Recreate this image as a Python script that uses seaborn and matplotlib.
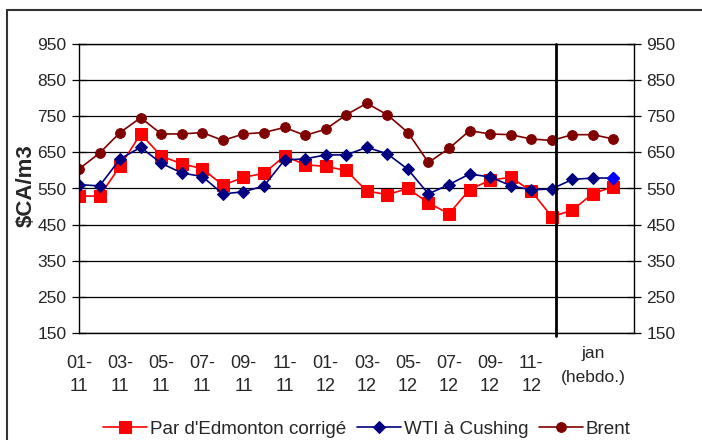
import matplotlib
matplotlib.use("Agg")
import matplotlib.pyplot as plt
import seaborn as sns
import numpy as np
import pandas as pd
from matplotlib.patches import Rectangle

# ---- data ----
periods = ["01-11", "02-11", "03-11", "04-11", "05-11", "06-11", "07-11", "08-11",
           "09-11", "10-11", "11-11", "12-11", "01-12", "02-12", "03-12", "04-12",
           "05-12", "06-12", "07-12", "08-12", "09-12", "10-12", "11-12", "12-12",
           "jan s1", "jan s2", "jan s3"]
edmonton = [529, 529, 612, 701, 640, 618, 605, 559, 581, 592, 640, 616, 611, 600,
            543, 533, 550, 510, 480, 547, 573, 581, 543, 472, 490, 536, 555]
wti = [561, 557, 632, 664, 620, 593, 583, 535, 541, 557, 629, 632, 643, 643,
       664, 646, 603, 535, 561, 590, 582, 558, 546, 549, 575, 579, 579]
brent = [604, 648, 705, 746, 701, 701, 705, 683, 701, 705, 719, 697, 714, 754,
         786, 754, 705, 622, 661, 710, 701, 699, 687, 683, 699, 699, 687]
series_names = ["Par d'Edmonton corrigé", "WTI à Cushing", "Brent"]
y_ticks = [150, 250, 350, 450, 550, 650, 750, 850, 950]
shown_labels = {0: "01-\n11", 2: "03-\n11", 4: "05-\n11", 6: "07-\n11", 8: "09-\n11",
                10: "11-\n11", 12: "01-\n12", 14: "03-\n12", 16: "05-\n12",
                18: "07-\n12", 20: "09-\n12", 22: "11-\n12"}
weekly_label = "jan\n(hebdo.)"

sns.set_style("white")
plt.rcParams["font.family"] = ["Liberation Sans", "DejaVu Sans"]

W, H = 702, 440
fig = plt.figure(figsize=(W / 100, H / 100), dpi=100)
ax = fig.add_axes([79 / W, 1 - 333 / H, (634 - 79) / W, (333 - 44) / H])

x = np.arange(len(periods))
df = pd.DataFrame({"x": x, "edm": edmonton, "wti": wti, "brent": brent})

red, navy, maroon = "#FF0000", "#000080", "#800000"
sns.lineplot(data=df, x="x", y="edm", ax=ax, color=red, marker="s", markersize=8,
             markeredgecolor=red, linewidth=1.2, label=series_names[0])
sns.lineplot(data=df, x="x", y="wti", ax=ax, color=navy, marker="D", markersize=6.5,
             markeredgecolor=navy, linewidth=1.2, label=series_names[1])
sns.lineplot(data=df, x="x", y="brent", ax=ax, color=maroon, marker="o", markersize=7,
             markeredgecolor=maroon, linewidth=1.2, label=series_names[2])
# highlighted last WTI point
ax.plot(x[-1], wti[-1], marker="D", markersize=6.5, color="#0000FF", zorder=5)

ax.set_xlim(0, len(periods))
ax.set_ylim(150, 950)
ax.set_yticks(y_ticks)
ax.yaxis.grid(True, color="black", linewidth=0.9)
ax.set_axisbelow(True)
ax.set_xlabel("")
ax.set_ylabel("")

ax.set_xticks(np.arange(len(periods) + 1))
labels = [shown_labels.get(i, "") for i in range(len(periods) + 1)]
ax.set_xticklabels(labels, fontsize=13, linespacing=1.5)
ax.text(25, -0.045, weekly_label, transform=ax.get_xaxis_transform(),
        ha="center", va="top", fontsize=12.5, linespacing=1.75)

ax.tick_params(axis="x", direction="inout", length=9, width=0.9, pad=11, color="black")
ax.tick_params(axis="y", direction="inout", length=10, width=0.9, pad=4, color="black",
               labelsize=12.5, right=True, labelright=True, left=True, labelleft=True)
for s in ax.spines.values():
    s.set_color("black")
    s.set_linewidth(1.0)

ax.axvline(23.2, color="black", linewidth=2, ymin=-0.012, ymax=1, clip_on=False)

fig.text(26 / W, 1 - 186 / H, "$CA/m3", rotation=90, ha="center", va="center",
         fontsize=16, fontweight="bold")

ax.get_legend().remove()
handles, lbls = ax.get_legend_handles_labels()
fig.legend(handles[:3], lbls[:3], loc="center", bbox_to_anchor=(367 / W, 1 - 429 / H),
           ncol=3, frameon=False, fontsize=13.6, handlelength=2.3, handletextpad=0.15,
           columnspacing=0.6, borderaxespad=0)

fig.patches.append(Rectangle((7 / W, -0.1), 1.2, (H - 10) / H + 0.1,
                             transform=fig.transFigure, fill=False,
                             edgecolor="#333333", linewidth=1.5))

fig.savefig("out.png", dpi=100)
